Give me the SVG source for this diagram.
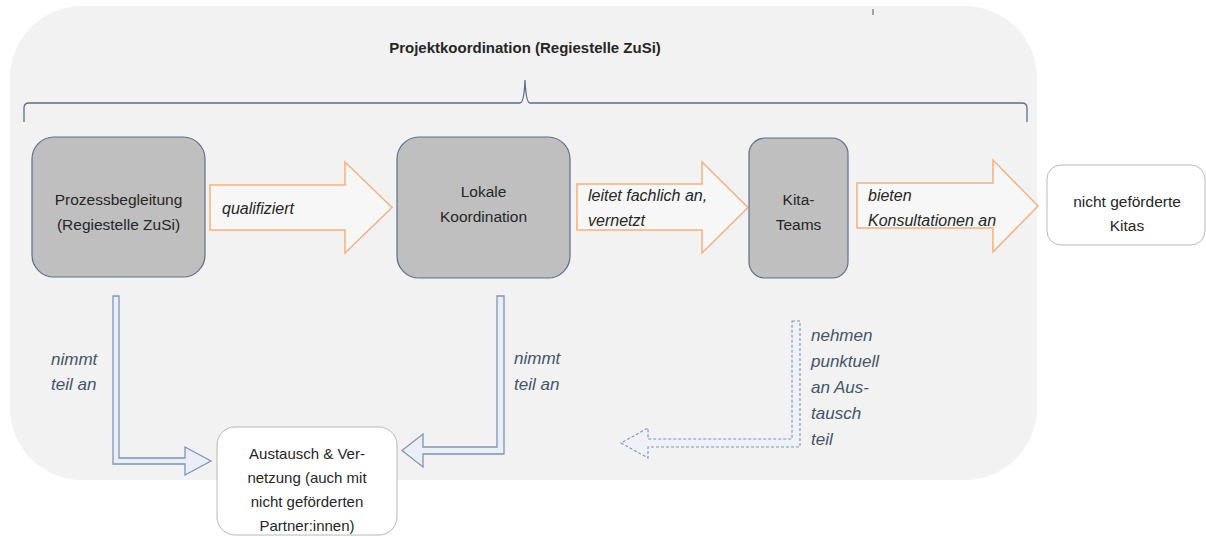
<svg xmlns="http://www.w3.org/2000/svg" width="1206" height="537" viewBox="0 0 1206 537">
<style>
.t{font-family:"Liberation Sans",Arial,sans-serif;font-size:15.5px;fill:#262626}
.c{text-anchor:middle}
.i{font-style:italic;font-size:16px}
.b{fill:#44546a;font-size:17px}
.node{fill:#bfbfbf;stroke:#5a6e8e;stroke-width:1.2}
.wnode{fill:#ffffff;stroke:#b8b8b8;stroke-width:1}
.oarrow{fill:#f7f7f7;stroke:#f4b183;stroke-width:1.5}
.barrow{fill:#eaeff7;stroke:#7f93b8;stroke-width:1.3}
.darrow{fill:#eef1f7;stroke:#7f93b8;stroke-width:1.1;stroke-dasharray:3 2}
</style>
<rect width="1206" height="537" fill="#ffffff"/>
<g id="panel">
<rect x="10" y="6" width="1027" height="474" rx="72" ry="72" fill="#f2f2f2"/>
<line x1="873" y1="9" x2="873" y2="15" stroke="#555" stroke-width="1"/>
<text class="t c" x="525" y="53" style="font-weight:bold;font-size:15px">Projektkoordination (Regiestelle ZuSi)</text>
<path d="M24,122 L24,108 Q24,103 29,103 L520,103 Q524,103 525,80 Q526,103 530,103 L1022,103 Q1027,103 1027,108 L1027,122" fill="none" stroke="#5a6e8e" stroke-width="1.3"/>
</g>
<g id="connectors">
<path class="oarrow" d="M210,185 L345,185 L345,162 L392,207.5 L345,253 L345,230 L210,230 Z"/>
<path class="oarrow" d="M577,184 L702,184 L702,162 L748,207.5 L702,253 L702,230 L577,230 Z"/>
<path class="oarrow" d="M857,183 L993,183 L993,160 L1038,206 L993,252 L993,228 L857,228 Z"/>
<path class="barrow" d="M113,296 L119,296 L119,458 L185,458 L185,447 L211,461 L185,475 L185,464 L113,464 Z"/>
<path class="barrow" d="M497,296 L504,296 L504,454 L423,454 L423,467 L402,450.5 L423,434 L423,447 L497,447 Z"/>
<path class="darrow" d="M792,321 L800,321 L800,447 L648,447 L648,458 L621,443 L648,428 L648,439 L792,439 Z"/>
<text class="t i" x="222" y="214">qualifiziert</text>
<text class="t i" x="588" y="201">leitet fachlich an,</text>
<text class="t i" x="588" y="226">vernetzt</text>
<text class="t i" x="868" y="201">bieten</text>
<text class="t i" x="868" y="226">Konsultationen an</text>
<text class="t i b" x="51" y="365">nimmt</text>
<text class="t i b" x="51" y="390">teil an</text>
<text class="t i b" x="514" y="364">nimmt</text>
<text class="t i b" x="514" y="390">teil an</text>
<text class="t i b" x="811" y="341">nehmen</text>
<text class="t i b" x="811" y="367">punktuell</text>
<text class="t i b" x="811" y="393">an Aus-</text>
<text class="t i b" x="811" y="419">tausch</text>
<text class="t i b" x="811" y="445">teil</text>
</g>
<g id="prozessbegleitung">
<rect class="node" x="32" y="137" width="173" height="140" rx="22"/>
<text class="t c" x="118.5" y="205">Prozessbegleitung</text>
<text class="t c" x="118.5" y="230">(Regiestelle ZuSi)</text>
</g>
<g id="lokale-koordination">
<rect class="node" x="397" y="137" width="173" height="141" rx="22"/>
<text class="t c" x="483.5" y="197">Lokale</text>
<text class="t c" x="483.5" y="222">Koordination</text>
</g>
<g id="kita-teams">
<rect class="node" x="749" y="138" width="99" height="140" rx="16"/>
<text class="t c" x="798.5" y="205">Kita-</text>
<text class="t c" x="798.5" y="230">Teams</text>
</g>
<g id="nicht-gefoerderte-kitas">
<rect class="wnode" x="1047" y="165" width="158" height="80" rx="14"/>
<text class="t c" x="1127" y="207">nicht geförderte</text>
<text class="t c" x="1127" y="231">Kitas</text>
</g>
<g id="austausch">
<rect class="wnode" x="217" y="427" width="180" height="108" rx="18"/>
<text class="t c" x="307" y="459" style="font-size:15px">Austausch &amp; Ver-</text>
<text class="t c" x="307" y="483" style="font-size:15px">netzung (auch mit</text>
<text class="t c" x="307" y="507" style="font-size:15px">nicht geförderten</text>
<text class="t c" x="307" y="531" style="font-size:15px">Partner:innen)</text>
</g>
</svg>
